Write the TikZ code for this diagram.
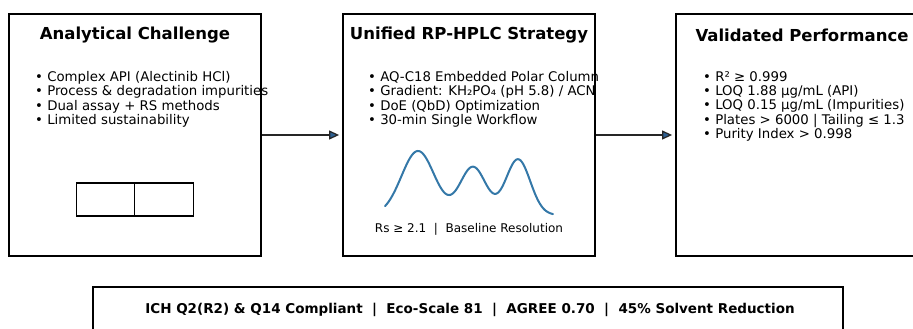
\documentclass[tikz,border=0pt]{standalone}
\usepackage{fontspec}
\setmainfont{DejaVu Sans}
\usetikzlibrary{arrows.meta}
\definecolor{curveblue}{RGB}{52,120,168}
\definecolor{arrowblue}{RGB}{45,95,145}
\tikzset{
  panel/.style={draw=black, line width=1.8pt, minimum width=252pt, minimum height=242pt, inner sep=0pt},
  bottombox/.style={draw=black, line width=1.3pt, minimum width=750pt, minimum height=60pt, inner sep=0pt},
  cell/.style={draw=black, line width=1.1pt, minimum width=58.5pt, minimum height=33pt, inner sep=0pt},
  paneltitle/.style={font=\fontsize{16.5}{19}\selectfont\bfseries, inner sep=0pt},
  bullets/.style={font=\fontsize{13.3}{14.4}\selectfont, align=left, anchor=north west, inner sep=0pt},
  conn/.style={draw=black!85, line width=1.2pt, -{Triangle[length=10pt,width=9pt,fill=arrowblue]}, shorten >=3pt},
}
\begin{document}
\begin{tikzpicture}[x=1pt,y=-1pt]
\useasboundingbox (0,0) rectangle (913,329);
\clip (0,0) rectangle (913,329);
% panels
\node[panel] (b1) at (135,135) {};
\node[panel] (b2) at (469,135) {};
\node[panel] (b3) at (802,135) {};
% titles
\node[paneltitle] (t1) at (135,35) {Analytical Challenge};
\node[paneltitle] (t2) at (469,35) {Unified RP-HPLC Strategy};
\node[paneltitle] (t3) at (802,35) {Validated Performance};
% bullet lists
\node[bullets] (l1) at (35,71) {• Complex API (Alectinib HCl)\\• Process \& degradation impurities\\• Dual assay + RS methods\\• Limited sustainability};
\node[bullets] (l2) at (368,71) {• AQ-C18 Embedded Polar Column\\• Gradient: KH₂PO₄ (pH 5.8) / ACN\\• DoE (QbD) Optimization\\• 30-min Single Workflow};
\node[bullets] (l3) at (703,71) {• R² ≥ 0.999\\• LOQ 1.88 µg/mL (API)\\• LOQ 0.15 µg/mL (Impurities)\\• Plates > 6000 | Tailing ≤ 1.3\\• Purity Index > 0.998};
% small two-cell rectangle
\node[cell] (c1) at (105.5,199.5) {};
\node[cell] (c2) at (164,199.5) {};
% chromatogram
\draw[curveblue, line width=2pt, line cap=round] plot[domain=385:553, samples=150, smooth]
  (\x, {215 - 64*exp(-(((\x-418)/10)^2)/5.5) - 48*exp(-(((\x-473)/10)^2)/3.4) - 55.7*exp(-(((\x-518)/10)^2)/3.0)});
\node[font=\fontsize{12}{14}\selectfont, inner sep=0pt] (rs) at (469,229) {Rs ≥ 2.1 \ | \ Baseline Resolution};
% connectors
\draw[conn] (b1.east) -- (b2.west);
\draw[conn] (b2.east) -- (b3.west);
% bottom banner
\node[bottombox] (bb) at (468,317) {};
\node[font=\fontsize{13.5}{16}\selectfont\bfseries, inner sep=0pt] (bt) at (470,310) {ICH Q2(R2) \& Q14 Compliant \ | \ Eco-Scale 81 \ | \ AGREE 0.70 \ | \ 45\% Solvent Reduction};
\end{tikzpicture}
\end{document}
